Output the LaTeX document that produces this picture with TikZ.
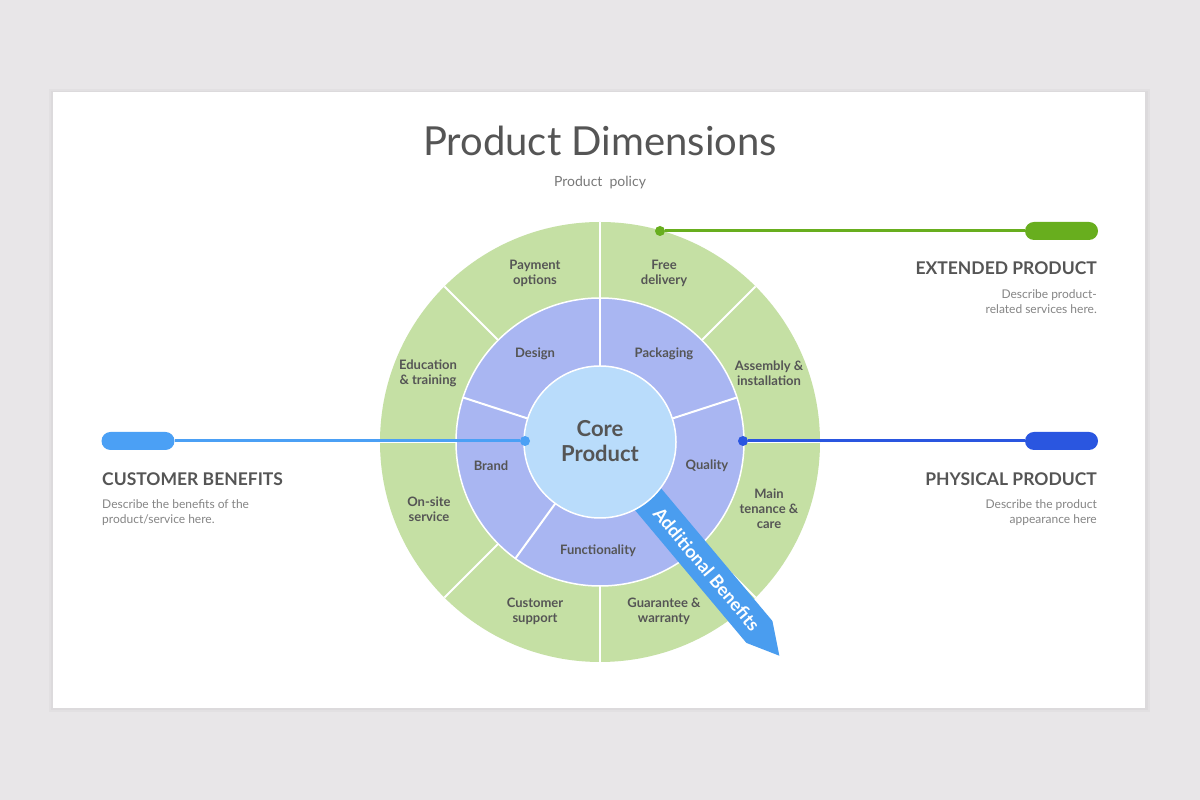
\documentclass[tikz,border=0pt]{standalone}
\usepackage{fontspec}
\setmainfont{Lato}
\begin{document}
\begin{tikzpicture}[x=1pt,y=1pt,
  ringlabel/.style={inner sep=0pt, align=center, text=labelgray, font=\fontsize{13}{15}\selectfont\bfseries},
  heading/.style={inner sep=0pt, text=headgray, font=\fontsize{17.5}{20}\selectfont\bfseries},
  desc/.style={inner sep=0pt, text=descgray, font=\fontsize{12}{15}\selectfont},
  divider/.style={white, line width=2pt},
  pill/.style={rectangle, rounded corners=9pt, minimum width=73pt, minimum height=18pt, inner sep=0pt},
  dot/.style={circle, minimum size=10pt, inner sep=0pt},
  conn/.style={line width=3pt}
]
\definecolor{bg}{HTML}{E8E6E8}
\definecolor{outerring}{HTML}{C5E0A4}
\definecolor{midring}{HTML}{A9B6F2}
\definecolor{innercore}{HTML}{B9DCFB}
\definecolor{bandblue}{HTML}{4A9DEF}
\definecolor{labelgray}{HTML}{555555}
\definecolor{headgray}{HTML}{555555}
\definecolor{descgray}{HTML}{858585}
\definecolor{greenline}{HTML}{68AE1E}
\definecolor{lightblue}{HTML}{4BA0F5}
\definecolor{darkblue}{HTML}{2A56E0}

\useasboundingbox (0,0) rectangle (1200,800);
\fill[bg] (0,0) rectangle (1200,800);
\fill[black, opacity=0.025] (49,88) rectangle (1150,711);
\fill[black, opacity=0.025] (51,90) rectangle (1148,709);
\fill[white] (53,92) rectangle (1145,708);

% titles
\node[inner sep=0pt, text=headgray, font=\fontsize{40}{44}\selectfont] (title) at (600,659) {Product Dimensions};
\node[inner sep=0pt, text=descgray!90!black, font=\fontsize{14}{16}\selectfont] (subtitle) at (600,617) {Product\ \ policy};

\begin{scope}[shift={(600,358)}]
  \fill[outerring] (0,0) circle[radius=220];
  \filldraw[fill=midring, draw=white, line width=1.5pt] (0,0) circle[radius=144];
  \foreach \a in {0,45,...,315} \draw[divider] (\a:144) -- (\a:220);
  \foreach \a in {18,90,162,234,306} \draw[divider] (\a:76) -- (\a:144);
  % additional benefits band
  \begin{scope}[rotate=-50]
    \fill[bandblue] (40,-17) -- (248,-17) -- (279,0) -- (248,17) -- (40,17) -- cycle;
  \end{scope}
  \node[inner sep=0pt, text=white, rotate=-50, font=\fontsize{18}{20}\selectfont\bfseries] (band) at (-50:166) {Additional Benefits};
  \filldraw[fill=innercore, draw=white, line width=1.5pt] (0,0) circle[radius=76];
  \node[inner sep=0pt, align=center, text=labelgray, font=\fontsize{22}{25}\selectfont\bfseries] (core) at (0,1) {Core\\Product};

  % outer ring labels
  \node[ringlabel] (pay)  at (-65,169) {Payment\\options};
  \node[ringlabel] (free) at (64,169) {Free\\delivery};
  \node[ringlabel] (edu)  at (-172,69) {Education\\\& training};
  \node[ringlabel] (asm)  at (169,69) {Assembly \&\\installation};
  \node[ringlabel] (ons)  at (-171,-67) {On-site\\service};
  \node[ringlabel] (mnt)  at (169,-67) {Main\\tenance \&\\care};
  \node[ringlabel] (cus)  at (-65,-169) {Customer\\support};
  \node[ringlabel] (gua)  at (64,-169) {Guarantee \&\\warranty};
  % middle ring labels
  \node[ringlabel] (des)  at (-65,88) {Design};
  \node[ringlabel] (pkg)  at (64,88) {Packaging};
  \node[ringlabel] (brd)  at (-109,-24) {Brand};
  \node[ringlabel] (qua)  at (107,-24) {Quality};
  \node[ringlabel] (fun)  at (-2,-109) {Functionality};
\end{scope}

% connectors
\node[dot, fill=greenline] (gdot) at (660,569) {};
\node[pill, fill=greenline] (gpill) at (1061.5,569) {};
\draw[conn, greenline] (gdot) -- (gpill);

\node[dot, fill=lightblue] (ldot) at (525,359) {};
\node[pill, fill=lightblue] (lpill) at (138,359) {};
\draw[conn, lightblue] (lpill) -- (ldot);

\node[dot, fill=darkblue] (rdot) at (743,359) {};
\node[pill, fill=darkblue] (rpill) at (1061.5,359) {};
\draw[conn, darkblue] (rdot) -- (rpill);

% side texts
\node[heading, anchor=east] (exth) at (1097,532) {EXTENDED PRODUCT};
\node[desc, anchor=east, align=right] (extd) at (1097,498.5) {Describe product-\\related services here.};
\node[heading, anchor=east] (phyh) at (1097,321) {PHYSICAL PRODUCT};
\node[desc, anchor=east, align=right] (phyd) at (1097,287.5) {Describe the product\\appearance here};
\node[heading, anchor=west] (cush) at (102,321) {CUSTOMER BENEFITS};
\node[desc, anchor=west, align=left] (cusd) at (102,287.5) {Describe the benefits of the\\product/service here.};
\end{tikzpicture}
\end{document}
